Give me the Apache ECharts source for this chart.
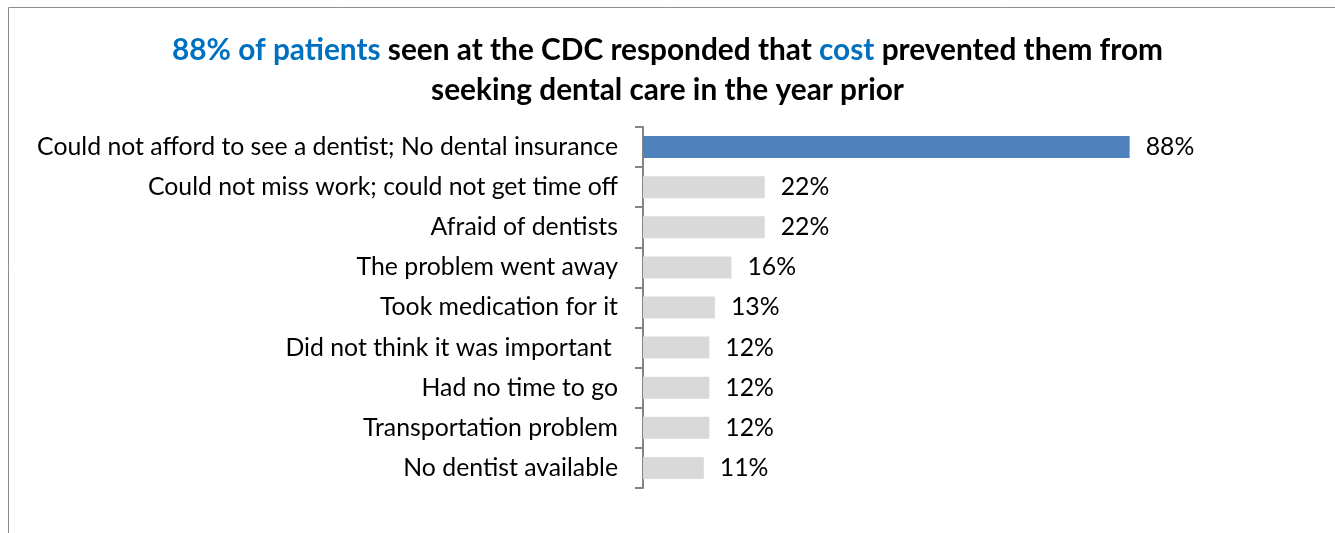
<!DOCTYPE html>
<html>
<head>
<meta charset="utf-8">
<script src="https://cdn.jsdelivr.net/npm/echarts@6/dist/echarts.min.js"></script>
<style>
  html, body { margin: 0; padding: 0; background: #fff; }
  #chart { width: 1335px; height: 533px; }
</style>
</head>
<body>
<div id="chart"></div>
<script>
// Reasons given for not seeking dental care in the prior year
const categories = [
  'Could not afford to see a dentist; No dental insurance',
  'Could not miss work; could not get time off',
  'Afraid of dentists',
  'The problem went away',
  'Took medication for it',
  'Did not think it was important ',
  'Had no time to go',
  'Transportation problem',
  'No dentist available'
];
const percentValues = [88, 22, 22, 16, 13, 12, 12, 12, 11];
const highlightIndex = 0;

const FONT = 'Lato, "Open Sans", sans-serif';

const chart = echarts.init(document.getElementById('chart'), null, { renderer: 'canvas' });

chart.setOption({
  animation: false,
  backgroundColor: '#ffffff',
  textStyle: { fontFamily: FONT },
  title: {
    left: 'center',
    top: 25,
    text: '{hl|88% of patients} seen at the CDC responded that {hl|cost} prevented them from\nseeking dental care in the year prior',
    textStyle: {
      fontFamily: FONT,
      fontSize: 29.8,
      fontWeight: 'bold',
      color: '#000000',
      lineHeight: 40,
      rich: {
        hl: { fontFamily: FONT, fontSize: 29.8, fontWeight: 'bold', color: '#0070C0', lineHeight: 40 }
      }
    }
  },
  graphic: [
    { type: 'line', shape: { x1: 8.5, y1: 7.5, x2: 1335, y2: 7.5 }, style: { stroke: '#8c8c8c', lineWidth: 1 } },
    { type: 'line', shape: { x1: 8.5, y1: 7.5, x2: 8.5, y2: 533 }, style: { stroke: '#8c8c8c', lineWidth: 1 } }
  ],
  grid: { left: 643, right: 139, top: 127, bottom: 45, containLabel: false },
  xAxis: {
    type: 'value',
    min: 0,
    max: 100,
    show: false
  },
  yAxis: {
    type: 'category',
    data: categories,
    inverse: true,
    boundaryGap: true,
    axisLine: { show: true, lineStyle: { color: '#868686', width: 2 } },
    axisTick: { show: true, length: 8, inside: false, lineStyle: { color: '#868686', width: 2 } },
    axisLabel: { color: '#000000', fontSize: 24.8, margin: 25, fontFamily: FONT },
    splitLine: { show: false }
  },
  series: [{
    type: 'bar',
    data: percentValues.map((v, i) => ({
      value: v,
      itemStyle: { color: i === highlightIndex ? '#4F81BD' : '#D9D9D9' }
    })),
    barWidth: 22,
    label: {
      show: true,
      position: 'right',
      distance: 16,
      formatter: p => p.value + '%',
      color: '#000000',
      fontSize: 24.8,
      fontFamily: FONT
    }
  }]
});
</script>
</body>
</html>
